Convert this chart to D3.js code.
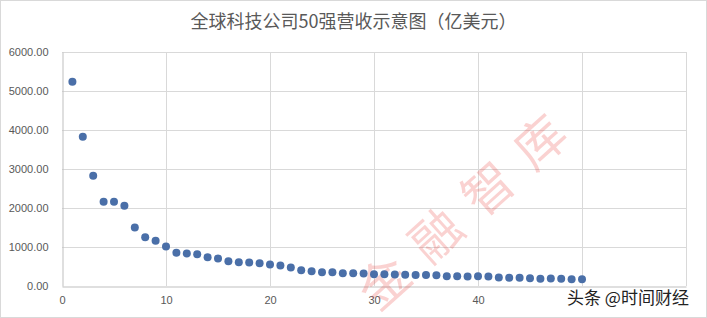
<!DOCTYPE html>
<html>
<head>
    <meta charset="utf-8">
    <script src="https://cdn.jsdelivr.net/npm/d3@7"></script>
    <style>
        body { margin: 0; background: #fff; }
        text { font-family: "Noto Sans CJK SC", "Noto Sans", sans-serif; }
    </style>
</head>
<body>
    <svg id="mainsvg"></svg>
    <script type="text/javascript">
    // rank of company (1..50) and revenue in 100M USD
    const ranks = d3.range(1, 51);
    const revenue = [
        5240, 3830, 2830, 2160, 2160, 2060, 1500, 1250, 1160, 1015,
        855, 835, 812, 738, 707, 632, 607, 605, 581, 552,
        527, 475, 402, 380, 350, 350, 325, 325, 322, 300,
        299, 297, 291, 285, 280, 278, 250, 248, 246, 250,
        245, 215, 214, 213, 200, 188, 195, 188, 171, 170
    ];
    const xGrid = [10, 20, 30, 40, 50, 60];
    const xTicks = [0, 10, 20, 30, 40];   // 50 and 60 are hidden under the footer
    const yTicks = [0, 1000, 2000, 3000, 4000, 5000, 6000];
    const title = "全球科技公司50强营收示意图（亿美元）";
    const watermark = "金融智库";
    const footer = "头条 @时间财经";

    const width = 707, height = 318;
    const margin = { top: 52, right: 21, bottom: 32, left: 62 };

    const svg = d3.select("#mainsvg")
        .attr("width", width)
        .attr("height", height)
        .attr("viewBox", [0, 0, width, height]);

    // chart border
    svg.append("rect")
        .attr("x", 0.5).attr("y", 0.5)
        .attr("width", width - 1).attr("height", height - 1)
        .attr("fill", "#fff").attr("stroke", "#d9d9d9");

    const x = d3.scaleLinear([0, 60], [margin.left, width - margin.right]);
    const y = d3.scaleLinear([0, 6000], [height - margin.bottom, margin.top]);

    // gridlines
    svg.append("g")
        .attr("stroke", "#d9d9d9")
        .selectAll("line")
        .data(yTicks.slice(1))
        .join("line")
        .attr("x1", x(0)).attr("x2", x(60))
        .attr("y1", d => Math.round(y(d)) + 0.5).attr("y2", d => Math.round(y(d)) + 0.5);

    svg.append("g")
        .attr("stroke", "#d9d9d9")
        .selectAll("line")
        .data(xGrid)
        .join("line")
        .attr("y1", y(0)).attr("y2", y(6000))
        .attr("x1", d => Math.round(x(d)) + 0.5).attr("x2", d => Math.round(x(d)) + 0.5);

    // axes
    const xAxis = d3.axisBottom(x).tickValues(xTicks).tickSize(0).tickPadding(10);
    const yAxis = d3.axisLeft(y).tickValues(yTicks).tickSize(0).tickPadding(14)
        .tickFormat(d3.format(".2f"));

    const gx = svg.append("g")
        .attr("transform", `translate(0,${Math.round(y(0)) + 0.5})`)
        .call(xAxis);
    gx.select(".domain").attr("stroke", "#bfbfbf");

    const gy = svg.append("g")
        .attr("transform", `translate(${Math.round(x(0)) + 0.5},0)`)
        .call(yAxis);
    gy.select(".domain").attr("stroke", "#bfbfbf");

    svg.selectAll(".tick text")
        .attr("fill", "#595959")
        .style("font-size", "11px")
        .style("font-family", "'Liberation Sans', 'Noto Sans', sans-serif");

    // title
    svg.append("text")
        .attr("x", width / 2)
        .attr("y", 28)
        .attr("text-anchor", "middle")
        .attr("fill", "#595959")
        .style("font-size", "18px")
        .text(title);

    // watermark
    svg.append("text")
        .attr("transform", "translate(470,206) rotate(-42)")
        .attr("text-anchor", "middle")
        .attr("dy", "0.35em")
        .attr("fill", "#e8302f")
        .attr("fill-opacity", 0.22)
        .style("font-size", "50px")
        .style("letter-spacing", "20px")
        .text(watermark);

    // points
    svg.append("g")
        .attr("fill", "#4a6fa8")
        .selectAll("circle")
        .data(ranks)
        .join("circle")
        .attr("cx", d => x(d))
        .attr("cy", (d, i) => y(revenue[i]))
        .attr("r", 4);

    // footer
    svg.append("text")
        .attr("x", 567)
        .attr("y", 304)
        .attr("fill", "#222")
        .style("font-size", "17px")
        .text(footer);
    </script>
</body>
</html>
